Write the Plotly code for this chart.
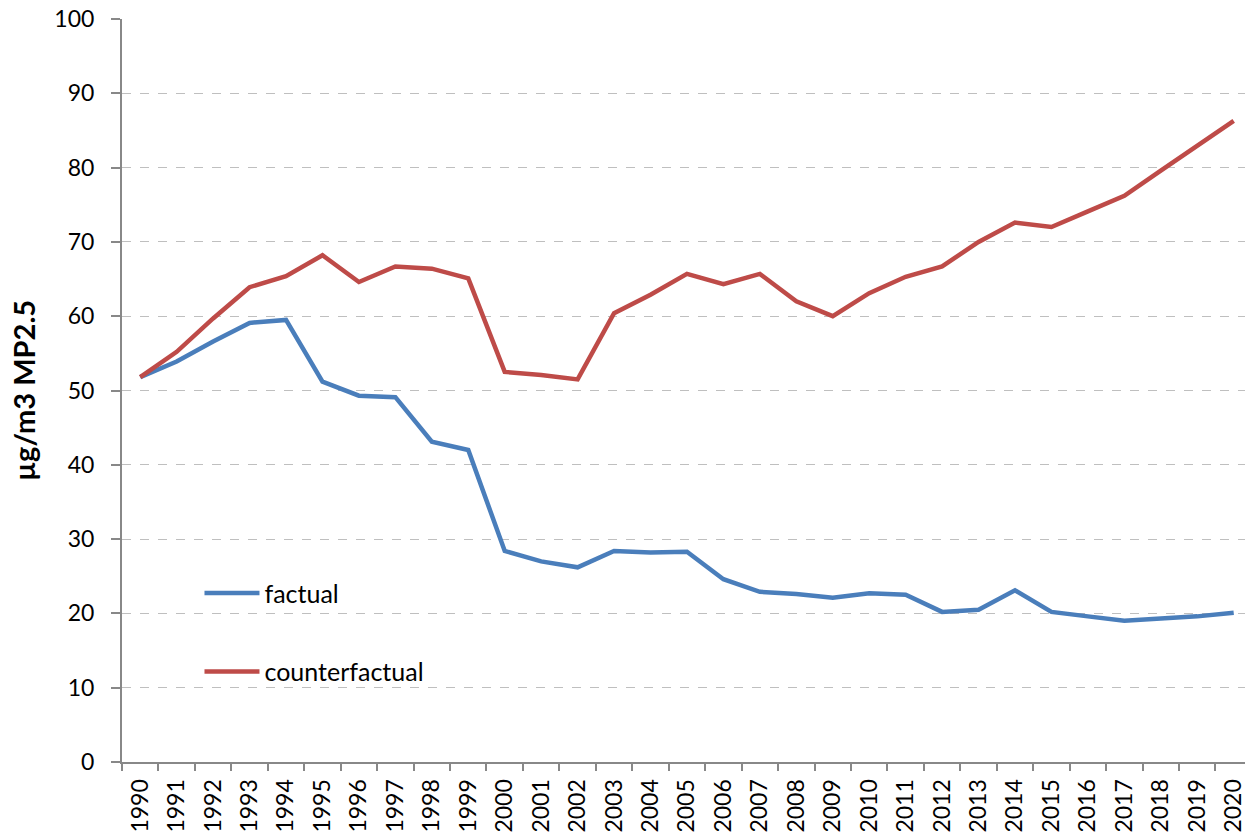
import plotly.graph_objects as go

# Years on the category axis
years = [str(y) for y in range(1990, 2021)]

# Annual mean PM2.5 concentration (µg/m3)
factual = [51.8, 53.9, 56.6, 59.1, 59.5, 51.2, 49.3, 49.1, 43.1, 42.0,
           28.4, 27.0, 26.2, 28.4, 28.2, 28.3, 24.6, 22.9, 22.6, 22.1,
           22.7, 22.5, 20.2, 20.5, 23.1, 20.2, 19.6, 19.0, 19.3, 19.6,
           20.1]
counterfactual = [51.8, 55.2, 59.7, 63.9, 65.4, 68.2, 64.6, 66.7, 66.4, 65.1,
                  52.5, 52.1, 51.5, 60.4, 62.9, 65.7, 64.3, 65.7, 62.0, 60.0,
                  63.1, 65.3, 66.7, 70.0, 72.6, 72.0, 74.1, 76.2, 79.6, 82.9,
                  86.3]

series_names = ["factual", "counterfactual"]
series_colors = ["#4A7EBB", "#BE4B48"]

FONT = "Lato"

fig = go.Figure()
for name, vals, col in zip(series_names, [factual, counterfactual], series_colors):
    fig.add_trace(go.Scatter(
        x=years, y=vals, name=name, mode="lines",
        line=dict(color=col, width=4.5),
        legendgroup=name,
    ))

fig.update_layout(
    width=1245, height=838,
    margin=dict(l=122, r=0, t=19, b=76),
    paper_bgcolor="white", plot_bgcolor="white",
    font=dict(family=FONT, size=22, color="black"),
    showlegend=True,
    legend=dict(
        x=0.069, y=0.258, xanchor="left", yanchor="top",
        bgcolor="rgba(0,0,0,0)", font=dict(size=25, family=FONT),
        tracegroupgap=43, traceorder="grouped",
        itemwidth=55,
    ),
)

fig.update_xaxes(
    type="category", range=[-0.5, 30.31],
    tickson="boundaries", ticks="outside", ticklen=7, tickwidth=2,
    tickcolor="#888888", tickangle=-90,
    tickfont=dict(size=23, family=FONT),
    ticklabelstandoff=6,
    showline=True, linecolor="#888888", linewidth=2,
    showgrid=False, zeroline=False,
)
fig.update_yaxes(
    range=[0, 100], dtick=10, tick0=0,
    ticks="outside", ticklen=9, tickwidth=2, tickcolor="#888888",
    tickfont=dict(size=23, family=FONT),
    ticklabelstandoff=12,
    showline=True, linecolor="#888888", linewidth=2,
    showgrid=True, gridcolor="#BFBFBF", griddash="dash", gridwidth=1,
    zeroline=False,
    title=dict(text="<b>µg/m3 MP2.5</b>", font=dict(size=29, family=FONT),
               standoff=10),
)

fig.write_html("out.html")
